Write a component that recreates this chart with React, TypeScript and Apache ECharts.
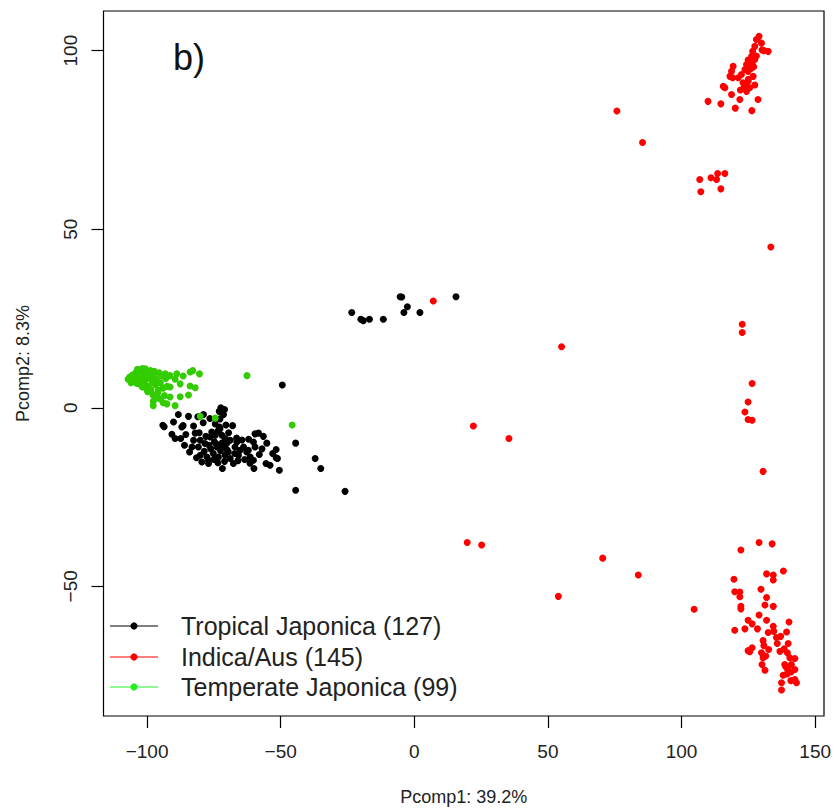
import React, { useEffect, useRef } from "react";
import * as echarts from "echarts";

const xTicks = [-100, -50, 0, 50, 100, 150];
const yTicks = [-50, 0, 50, 100];

const seriesNames = ["Tropical Japonica (127)", "Indica/Aus (145)", "Temperate Japonica (99)"];
const pointColors = ["#000000", "#ff0000", "#33cc00"];
const legendColors = ["#000000", "#ff0000", "#22ee22"];

const tropical: number[][] = [
  [-23.4, 26.7], [-20.0, 24.8], [-19.1, 24.4], [-16.8, 24.8], [-11.6, 24.8], [-5.3, 31.1], [-4.7, 31.0],
  [-2.6, 28.3], [-3.9, 26.7], [2.1, 26.7], [15.6, 31.1],
  [-49.4, 6.4],
  [-94.1, -4.9], [-93.6, -5.3], [-90.1, -4.0], [-88.3, -1.9], [-84.5, -2.4], [-87.0, -5.4], [-86.5, -5.0],
  [-82.6, -5.1], [-82.0, -7.1], [-90.7, -7.4], [-89.5, -8.6], [-87.4, -8.6], [-78.9, -1.9], [-72.4, 0.0],
  [-71.4, -1.9], [-72.7, -3.1], [-72.9, -5.4], [-75.8, -6.8], [-76.4, -8.2], [-74.5, -7.7], [-72.0, -7.7],
  [-70.8, -8.6], [-68.9, -9.1], [-66.4, -9.6], [-80.1, -9.1], [-78.3, -10.0], [-80.8, -11.0], [-83.2, -11.0],
  [-84.1, -12.4], [-80.1, -13.3], [-77.6, -13.8], [-77.0, -14.7], [-75.2, -12.8], [-73.3, -13.8], [-73.5, -15.4],
  [-73.9, -11.0], [-71.4, -11.0], [-70.2, -10.0], [-69.6, -12.4], [-70.8, -13.3], [-68.9, -14.2], [-67.7, -15.6],
  [-67.1, -11.0], [-65.2, -11.9], [-65.8, -13.3], [-63.9, -11.0], [-62.7, -12.4], [-61.4, -13.8], [-62.1, -11.9],
  [-60.2, -9.6], [-59.6, -7.3], [-58.3, -7.1], [-56.5, -8.0], [-59.6, -11.0], [-58.0, -13.1], [-60.2, -14.7],
  [-60.0, -17.0], [-55.2, -9.9], [-55.5, -15.6], [-54.0, -16.1], [-51.7, -11.7], [-51.7, -14.0], [-51.2, -14.2],
  [-50.5, -17.5], [-44.4, -9.9], [-44.4, -23.1], [-37.1, -14.2], [-35.0, -17.0], [-25.9, -23.4], [-72.7, -5.9],
  [-77.0, -15.6], [-82.6, -9.1],
  [-74.8, -9.5], [-76.2, -11.5], [-78.6, -12.2], [-72.5, -12.0], [-75.0, -14.5], [-71.0, -15.0], [-79.5, -15.2],
  [-74.0, -10.2], [-72.0, -9.9], [-76.8, -10.5], [-73.5, -6.5], [-74.5, -4.5], [-78.0, -8.0], [-70.0, -11.8],
  [-66.0, -14.8], [-63.5, -14.5], [-69.5, -7.0], [-66.5, -8.5], [-80.5, -7.0], [-85.5, -7.5], [-86.0, -10.5],
  [-81.5, -14.0], [-71.8, -17.0], [-67.2, -12.8], [-64.5, -9.0], [-61.5, -15.5], [-57.0, -11.5], [-62.0, -8.8],
  [-53.0, -12.8], [-68.0, -5.0], [-79.0, -4.2], [-81.0, -2.5], [-76.5, -3.0], [-70.5, -4.8], [-73.0, -1.0],
  [-71.0, -0.5],
];

const indica: number[][] = [
  [129.0, 104.0], [128.0, 103.1], [129.9, 102.1], [132.4, 99.8], [130.8, 100.0], [130.1, 100.2], [127.4, 101.2],
  [126.6, 99.8], [126.2, 98.4], [127.4, 97.5], [125.3, 97.0], [124.9, 97.4], [124.3, 96.1], [126.5, 96.0],
  [123.7, 94.7], [124.9, 94.2], [126.0, 95.0], [127.0, 95.5], [122.4, 93.3], [119.3, 95.6], [118.7, 94.2],
  [119.1, 92.4], [118.1, 92.8], [121.2, 92.4], [123.0, 91.0], [124.9, 91.4], [126.8, 92.8], [125.5, 89.6],
  [127.4, 90.4], [124.3, 88.6], [115.6, 90.0], [116.2, 89.6], [118.7, 87.7], [121.8, 86.3], [128.6, 86.3],
  [109.9, 85.8], [114.7, 85.1], [120.1, 83.9], [126.3, 83.2], [125.0, 92.0], [123.5, 90.0], [128.0, 98.5],
  [122.0, 89.0],
  [75.8, 83.1], [85.4, 74.3], [106.8, 63.9], [111.0, 64.4], [113.5, 65.6], [113.1, 63.9], [116.2, 65.6],
  [107.2, 60.5], [114.7, 61.3], [133.4, 45.0], [122.7, 23.4], [122.7, 21.1], [55.1, 17.1], [126.4, 6.8],
  [124.9, 1.6], [123.7, -1.2], [124.9, -3.3], [126.4, -3.5], [130.5, -17.8], [7.1, 29.9], [22.1, -5.1],
  [35.4, -8.6], [19.8, -37.7], [25.2, -38.4], [70.5, -42.1], [83.8, -46.8], [53.9, -52.8], [104.7, -56.4],
  [122.2, -39.8], [129.0, -37.7], [133.9, -38.1], [138.1, -45.7], [131.8, -46.5], [134.3, -46.8], [134.3, -48.2],
  [119.6, -48.0], [129.7, -50.8], [119.9, -51.5], [121.8, -51.6], [121.8, -52.9], [131.8, -53.1], [131.2, -55.2],
  [134.3, -55.6], [122.2, -55.6], [122.2, -56.3], [129.0, -58.0], [124.9, -59.5], [126.4, -60.5], [131.8, -59.5],
  [140.2, -60.0], [119.9, -62.3], [123.7, -61.9], [128.4, -61.9], [132.4, -62.9], [134.3, -61.2], [134.5, -62.6],
  [139.3, -62.8], [135.5, -64.3], [137.1, -64.0], [130.5, -65.2], [135.8, -66.0], [139.9, -66.0], [130.8, -66.6],
  [132.6, -67.7], [124.9, -68.0], [126.4, -67.2], [125.5, -68.3], [129.9, -68.6], [136.8, -68.2], [138.4, -67.5],
  [139.6, -68.6], [130.5, -70.0], [131.5, -69.5], [140.5, -70.0], [142.4, -70.2], [138.6, -71.9], [141.1, -71.9],
  [130.1, -71.9], [139.7, -73.3], [142.4, -73.3], [131.2, -73.5], [138.0, -74.9], [139.5, -74.5], [140.9, -76.4],
  [142.4, -76.1], [143.0, -77.0], [137.4, -77.0], [137.4, -79.0], [141.0, -74.0], [139.0, -72.5],
];

const temperate: number[][] = [
  [-107.1, 8.0], [-106.5, 8.6], [-106.0, 7.6], [-105.7, 8.1], [-105.5, 9.2], [-105.0, 8.3], [-104.5, 9.5],
  [-104.5, 7.2], [-104.0, 10.0], [-103.5, 8.8], [-103.0, 9.6], [-102.8, 7.0], [-102.6, 10.3], [-102.0, 8.0],
  [-101.5, 9.2], [-101.0, 6.5], [-100.7, 10.9], [-100.5, 7.8], [-100.0, 9.0], [-99.5, 6.0], [-99.0, 8.5],
  [-98.8, 10.4], [-98.5, 5.0], [-98.0, 7.2], [-97.5, 9.5], [-97.0, 6.5], [-96.5, 8.0], [-96.0, 4.2],
  [-95.5, 9.8], [-95.0, 7.0], [-94.5, 8.9], [-94.0, 5.5], [-93.5, 3.4], [-93.0, 8.2], [-92.5, 6.0],
  [-106.0, 7.0], [-103.8, 6.8], [-101.8, 5.8], [-99.8, 4.5], [-97.8, 3.6], [-97.7, 1.8], [-97.7, 0.6],
  [-96.8, 2.6], [-95.1, 2.5], [-94.0, 1.4], [-92.6, 1.1], [-91.4, 3.0], [-91.4, 5.8], [-89.5, 0.6],
  [-88.9, 9.5], [-87.6, 6.7], [-87.6, 3.1], [-84.5, 3.6], [-83.9, 6.1], [-82.0, 5.6], [-83.9, 10.0],
  [-82.9, 10.4], [-80.4, 9.5], [-93.2, 9.5], [-91.4, 9.0], [-89.5, 8.0], [-86.5, 8.9], [-62.6, 9.0],
  [-80.1, -2.4], [-74.5, -2.9], [-45.7, -4.8], [-105.2, 7.9], [-103.2, 8.4], [-101.2, 7.5], [-99.2, 9.8],
  [-98.2, 8.2], [-96.2, 6.9], [-95.8, 5.0], [-100.2, 5.3], [-102.2, 6.3], [-104.8, 8.8], [-103.6, 10.8],
  [-101.8, 11.0], [-97.3, 10.2],
];

const FONT = "'Liberation Sans', Arial, Helvetica, sans-serif";
const fmt = (v: number) => (v < 0 ? "\u2212" + Math.abs(v) : String(v));

export default function App() {
  const ref = useRef<HTMLDivElement>(null);

  useEffect(() => {
    document.body.style.margin = "0";
    if (!ref.current) return;
    const chart = echarts.init(ref.current, undefined, { renderer: "svg" });

    const legendRows = [626, 657, 687];
    const legendGraphics: any[] = [];
    seriesNames.forEach((name, i) => {
      legendGraphics.push({
        type: "line",
        shape: { x1: 110, y1: legendRows[i], x2: 158, y2: legendRows[i] },
        style: { stroke: legendColors[i], lineWidth: 1.2 },
      });
      legendGraphics.push({
        type: "circle",
        shape: { cx: 134, cy: legendRows[i], r: 3.6 },
        style: { fill: legendColors[i] },
      });
      legendGraphics.push({
        type: "text",
        x: 181,
        y: legendRows[i],
        style: { text: name, font: `25px ${FONT}`, fill: "#222", verticalAlign: "middle", align: "left" },
      });
    });

    const datasets = [tropical, indica, temperate];

    chart.setOption({
      animation: false,
      backgroundColor: "#ffffff",
      grid: {
        left: 103.5,
        top: 11,
        right: 11,
        bottom: 93,
        show: true,
        borderColor: "#000",
        borderWidth: 1.2,
        backgroundColor: "transparent",
      },
      xAxis: {
        type: "value",
        min: -116.3,
        max: 153.3,
        name: "Pcomp1: 39.2%",
        nameLocation: "middle",
        nameGap: 72,
        nameTextStyle: { fontFamily: FONT, fontSize: 18, color: "#222", verticalAlign: "top" },
        axisLine: { show: false, onZero: false },
        splitLine: { show: false },
        axisTick: {
          show: true,
          length: 12,
          inside: false,
          customValues: xTicks,
          lineStyle: { color: "#000", width: 1.2 },
        },
        axisLabel: {
          customValues: xTicks,
          formatter: fmt,
          margin: 26,
          fontFamily: FONT,
          fontSize: 19,
          color: "#222",
        },
      },
      yAxis: {
        type: "value",
        min: -86.3,
        max: 111.1,
        name: "Pcomp2: 8.3%",
        nameLocation: "middle",
        nameRotate: 90,
        nameGap: 72,
        nameTextStyle: { fontFamily: FONT, fontSize: 18, color: "#222" },
        axisLine: { show: false, onZero: false },
        splitLine: { show: false },
        axisTick: {
          show: true,
          length: 12,
          inside: false,
          customValues: yTicks,
          lineStyle: { color: "#000", width: 1.2 },
        },
        axisLabel: {
          customValues: yTicks,
          formatter: fmt,
          rotate: 90,
          margin: 24,
          fontFamily: FONT,
          fontSize: 19,
          color: "#222",
        },
      },
      series: datasets.map((d, i) => ({
        type: "scatter",
        name: seriesNames[i],
        data: d,
        symbol: "circle",
        symbolSize: 7,
        itemStyle: { color: pointColors[i], opacity: 1 },
        silent: true,
      })),
      graphic: [
        {
          type: "text",
          x: 173,
          y: 57,
          style: { text: "b)", font: `36px ${FONT}`, fill: "#111", verticalAlign: "middle", align: "left" },
        },
        ...legendGraphics,
      ],
    });

    return () => chart.dispose();
  }, []);

  return <div ref={ref} style={{ width: 835, height: 811 }} />;
}
